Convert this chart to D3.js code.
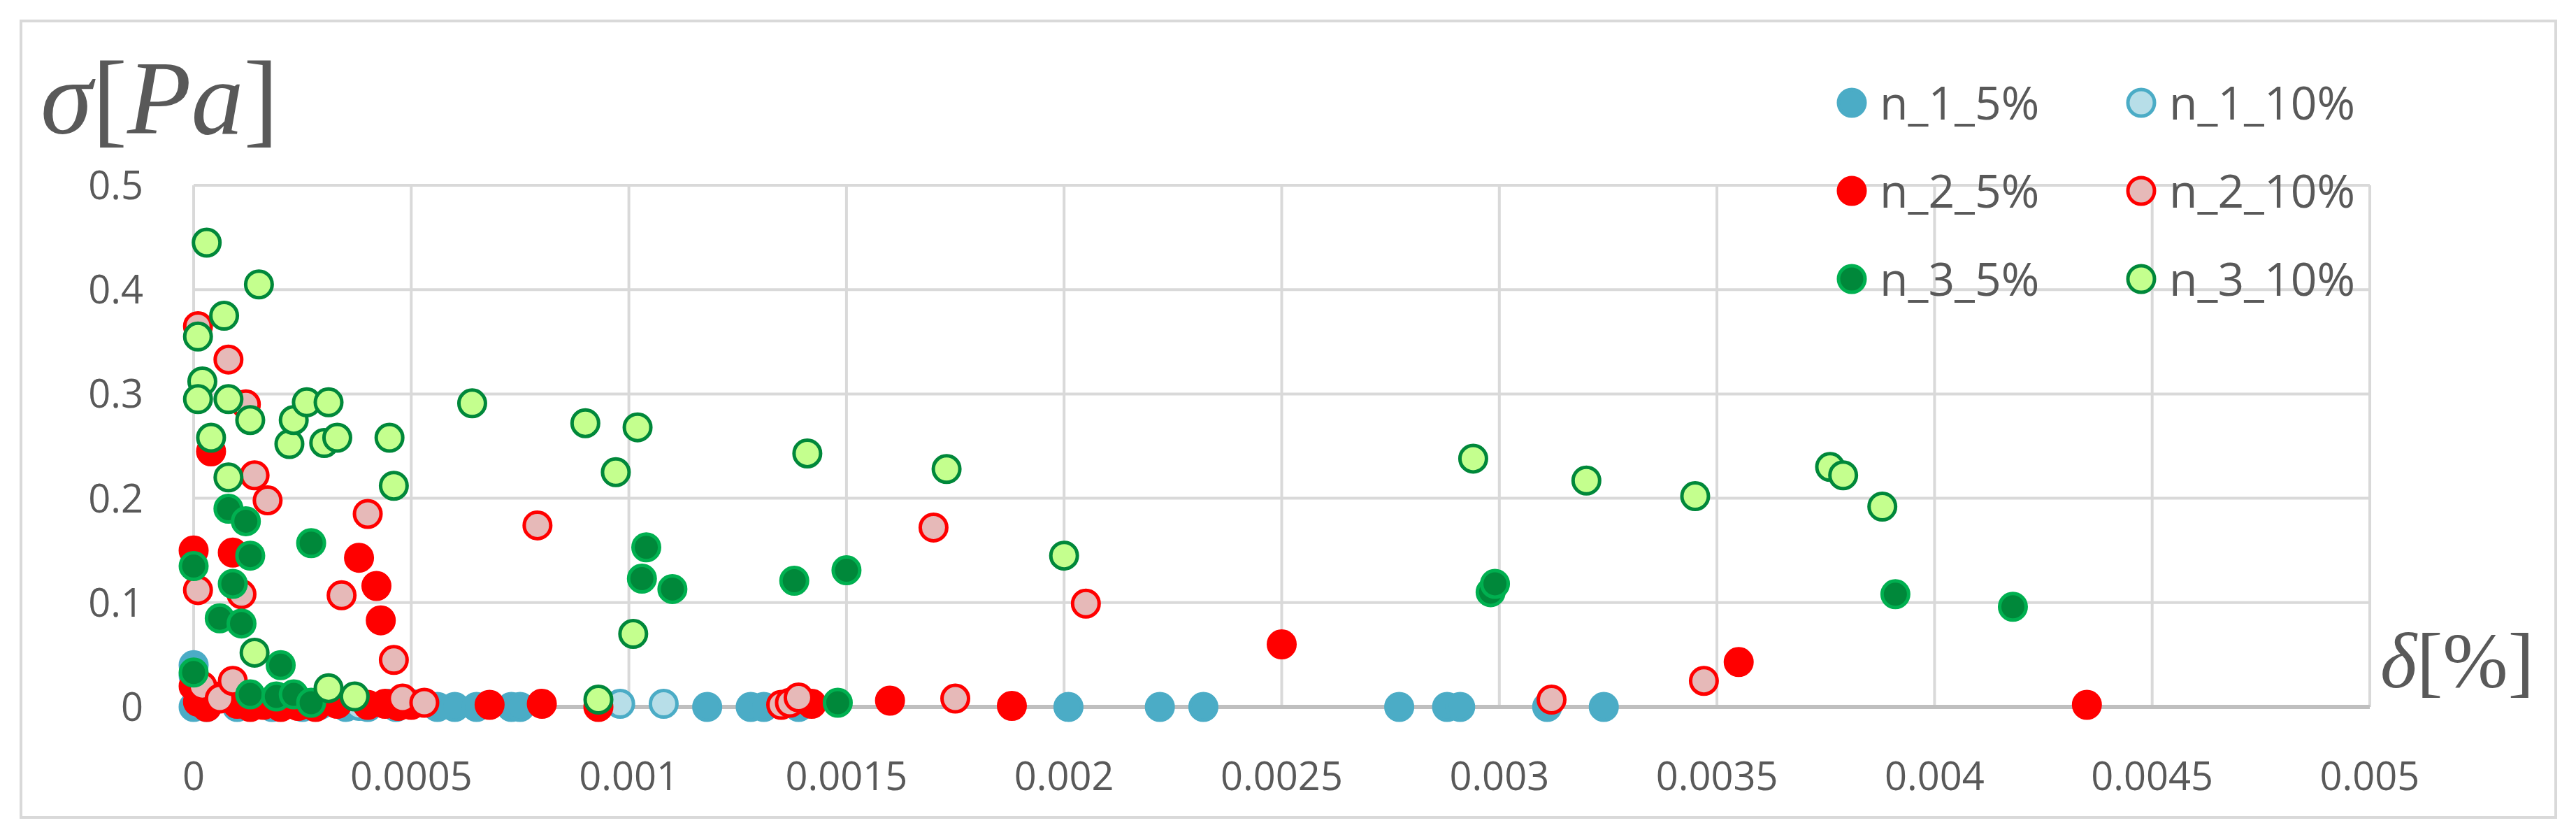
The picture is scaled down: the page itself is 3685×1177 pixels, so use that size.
<!DOCTYPE html>
<html><head><meta charset="utf-8">
<script src="https://cdn.jsdelivr.net/npm/d3@7"></script>
<style>body{margin:0;background:#fff}</style></head>
<body><svg id="c" width="3685" height="1177"></svg>
<script>
const xTicks=[0,0.0005,0.001,0.0015,0.002,0.0025,0.003,0.0035,0.004,0.0045,0.005];
const yTicks=[0,0.1,0.2,0.3,0.4,0.5];
const seriesNames=["n_1_5%","n_1_10%","n_2_5%","n_2_10%","n_3_5%","n_3_10%"];
const n1_5=[[0,0.04],[0,0],[0.00003,0],[0.0001,0],[0.00018,0],[0.00025,0],[0.00035,0],[0.0004,0],[0.000465,0],[0.00056,0],[0.0006,0],[0.00065,0],[0.00073,0],[0.00075,0],[0.00118,0],[0.00128,0],[0.00131,0],[0.00139,0],[0.00201,0],[0.00222,0],[0.00232,0],[0.00277,0],[0.00288,0],[0.00291,0],[0.00311,0],[0.00324,0]];
const n1_10=[[0,0.03],[0.00029,0.002],[0.00038,0.001],[0.00045,0.003],[0.0005,0.003],[0.00098,0.003],[0.00108,0.003]];
const n2_5=[[0,0.15],[0,0.02],[0.00001,0.005],[0.00003,0],[0.00004,0.245],[0.00006,0.01],[0.00009,0.148],[0.0001,0.003],[0.00013,0],[0.00016,0.002],[0.0002,0],[0.00024,0.001],[0.00028,0],[0.00033,0.003],[0.00038,0.143],[0.00042,0.116],[0.00043,0.083],[0.0004,0.002],[0.00044,0.003],[0.00047,0.001],[0.0005,0.002],[0.00068,0.002],[0.0008,0.003],[0.00093,0],[0.00142,0.003],[0.0016,0.006],[0.00188,0.001],[0.0025,0.06],[0.00355,0.043],[0.00435,0.002]];
const n2_10=[[0.00001,0.365],[0.00008,0.333],[0.00014,0.222],[0.00017,0.198],[0.00034,0.107],[0.0004,0.185],[0.00046,0.045],[0.00079,0.174],[0.00001,0.112],[0.00011,0.108],[0.00012,0.29],[0.00002,0.02],[0.00006,0.008],[0.00009,0.025],[0.00048,0.008],[0.00053,0.004],[0.00135,0.002],[0.00137,0.004],[0.00139,0.009],[0.0017,0.172],[0.00175,0.008],[0.00205,0.099],[0.00312,0.007],[0.00347,0.025]];
const n3_5=[[0,0.135],[0.00008,0.19],[0.00012,0.178],[0.00013,0.145],[0.00006,0.085],[0.00011,0.08],[0.00009,0.118],[0.00027,0.157],[0.0002,0.04],[0,0.033],[0.00013,0.012],[0.00019,0.01],[0.00023,0.012],[0.00027,0.004],[0.00104,0.153],[0.00103,0.123],[0.0011,0.113],[0.00138,0.121],[0.0015,0.131],[0.00148,0.004],[0.00298,0.11],[0.00299,0.118],[0.00391,0.108],[0.00418,0.096]];
const n3_10=[[0.00003,0.445],[0.00015,0.405],[0.00007,0.375],[0.00001,0.355],[0.00002,0.312],[0.00001,0.295],[0.00008,0.295],[0.00004,0.258],[0.00013,0.275],[0.00022,0.252],[0.00023,0.275],[0.00026,0.292],[0.00031,0.292],[0.0003,0.253],[0.00033,0.258],[0.00045,0.258],[0.00046,0.212],[0.00008,0.22],[0.00064,0.291],[0.0009,0.272],[0.00097,0.225],[0.00102,0.268],[0.00101,0.07],[0.00141,0.243],[0.00173,0.228],[0.002,0.145],[0.00294,0.238],[0.0032,0.217],[0.00345,0.202],[0.00376,0.23],[0.00379,0.222],[0.00388,0.192],[0.00014,0.052],[0.00031,0.018],[0.00037,0.01],[0.00093,0.007]];
const data=[n1_5,n1_10,n2_5,n2_10,n3_5,n3_10];
const styles=[{f:"#4BACC6",s:"#4BACC6"},{f:"#B7DEE8",s:"#4BACC6"},{f:"#FF0000",s:"#FF0000"},{f:"#E6B9B8",s:"#FF0000"},{f:"#00883A",s:"#00B050"},{f:"#C4FF8E",s:"#00883A"}];

const svg=d3.select("#c");
svg.append("rect").attr("x",30).attr("y",30).attr("width",3626).attr("height",1139).attr("fill","#fff").attr("stroke","#d9d9d9").attr("stroke-width",4);
const x=d3.scaleLinear().domain([0,0.005]).range([277,3390]);
const y=d3.scaleLinear().domain([0,0.5]).range([1011,265]);
const g=svg.append("g");
g.selectAll(".vg").data(xTicks).join("line").attr("x1",d=>x(d)).attr("x2",d=>x(d)).attr("y1",y(0.5)).attr("y2",y(0)).attr("stroke","#d9d9d9").attr("stroke-width",4);
g.selectAll(".hg").data(yTicks).join("line").attr("x1",x(0)).attr("x2",x(0.005)).attr("y1",d=>y(d)).attr("y2",d=>y(d)).attr("stroke",d=>d===0?"#bfbfbf":"#d9d9d9").attr("stroke-width",d=>d===0?6:4);
const tf="'Open Sans','Noto Sans',sans-serif";
g.selectAll(".xl").data(xTicks).join("text").attr("x",d=>x(d)).attr("y",1130).attr("text-anchor","middle").attr("font-family",tf).attr("font-size",56).attr("fill","#595959").text(d=>d===0?"0":String(d));
g.selectAll(".yl").data(yTicks).join("text").attr("x",205).attr("y",d=>y(d)+20).attr("text-anchor","end").attr("font-family",tf).attr("font-size",56).attr("fill","#595959").text(d=>d===0?"0":String(d));
data.forEach((s,i)=>{
  svg.append("g").selectAll("circle").data(s).join("circle").attr("cx",d=>x(d[0])).attr("cy",d=>y(d[1])).attr("r",19).attr("fill",styles[i].f).attr("stroke",styles[i].s).attr("stroke-width",5);
});
const lg=svg.append("g");
seriesNames.forEach((n,i)=>{
  const col=i%2,row=Math.floor(i/2);
  const cx=col?3063:2649, cy=147+row*126;
  lg.append("circle").attr("cx",cx).attr("cy",cy).attr("r",19).attr("fill",styles[i].f).attr("stroke",styles[i].s).attr("stroke-width",5);
  lg.append("text").attr("x",cx+40).attr("y",cy+24).attr("font-family",tf).attr("font-size",66).attr("fill","#595959").text(n);
});
const sf="'Liberation Serif','DejaVu Serif',serif";
const t1=svg.append("text").attr("x",58).attr("y",191).attr("font-family",sf).attr("font-size",150).attr("fill","#595959");
t1.append("tspan").attr("font-style","italic").text("σ");
t1.append("tspan").text("[");
t1.append("tspan").attr("font-style","italic").text("Pa");
t1.append("tspan").text("]");
const t2=svg.append("text").attr("x",3405).attr("y",983).attr("font-family",sf).attr("font-size",112).attr("fill","#595959");
t2.append("tspan").attr("font-style","italic").text("δ");
t2.append("tspan").text("[%]");
</script></body></html>
